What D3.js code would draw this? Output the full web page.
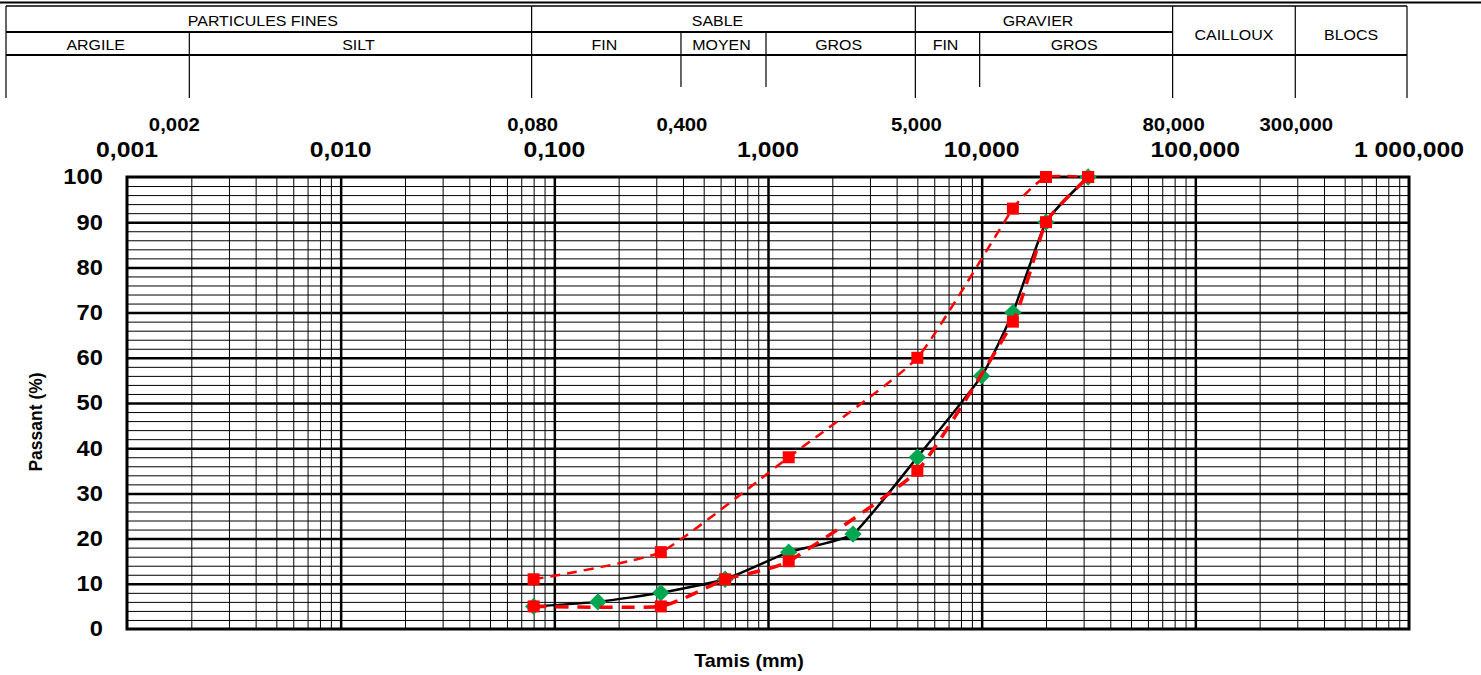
<!DOCTYPE html>
<html>
<head>
<meta charset="utf-8">
<script src="https://cdn.jsdelivr.net/npm/d3@7"></script>
<style>
  html, body { margin: 0; padding: 0; background: #fff; }
  svg { display: block; font-family: "Liberation Sans", Arial, sans-serif; }
</style>
</head>
<body>
<svg id="chart" width="1481" height="675"></svg>
<script>
// ---------------- DATA ----------------
const sievesGreen = [0.08, 0.16, 0.315, 0.63, 1.25, 2.5, 5, 10, 14, 20, 31.5];
const passingGreen = [5, 6, 8, 11, 17, 21, 38, 56, 70, 90, 100];

const sievesRedLow = [0.08, 0.315, 0.63, 1.25, 5, 14, 20, 31.5];
const passingRedLow = [5, 5, 11, 15, 35, 68, 90, 100];

const sievesRedHigh = [0.08, 0.315, 1.25, 5, 14, 20, 31.5];
const passingRedHigh = [11, 17, 38, 60, 93, 100, 100];

const topMajorValues = [0.001, 0.01, 0.1, 1, 10, 100, 1000];
const topMajorLabels = ["0,001", "0,010", "0,100", "1,000", "10,000", "100,000", "1 000,000"];
const topLimitValues = [0.002, 0.08, 0.4, 5, 80, 300];
const topLimitLabels = ["0,002", "0,080", "0,400", "5,000", "80,000", "300,000"];
const yTickValues = [0, 10, 20, 30, 40, 50, 60, 70, 80, 90, 100];

// classification table: [label, from, to] (null = left edge)
const classGroups = [
  ["PARTICULES FINES", null, 0.08],
  ["SABLE", 0.08, 5],
  ["GRAVIER", 5, 80]
];
const classSpanning = [
  ["CAILLOUX", 80, 300],
  ["BLOCS", 300, 1000]
];
const classSub = [
  ["ARGILE", null, 0.002],
  ["SILT", 0.002, 0.08],
  ["FIN", 0.08, 0.4],
  ["MOYEN", 0.4, 1],
  ["GROS", 1, 5],
  ["FIN", 5, 10],
  ["GROS", 10, 80]
];
const longDividers = [0.002, 0.08, 5, 80, 300, 1000];
const shortDividers = [0.4, 1, 10];

// ---------------- LAYOUT ----------------
const svg = d3.select("#chart");
const L = 127, R = 1409, T = 177, B = 629;
const x = d3.scaleLog().domain([0.001, 1000]).range([L, R]);
const y = d3.scaleLinear().domain([0, 100]).range([B, T]);
const STRETCH = 1.1;

function stext(g, px, py, txt, opts) {
  return g.append("text")
    .attr("transform", `translate(${px},${py}) scale(${STRETCH},1)`)
    .attr("text-anchor", opts.anchor || "middle")
    .attr("font-size", opts.size)
    .attr("font-weight", opts.weight || "normal")
    .attr("fill", "#000")
    .text(txt);
}

// ---------------- HEADER TABLE ----------------
const hx = v => (v === null ? 6 : x(v) - 2);
const H0 = 6, H1 = 32, H2 = 55, H3 = 98, H3s = 87;
const head = svg.append("g");
head.append("line").attr("x1", 0).attr("x2", 1481).attr("y1", 2.5).attr("y2", 2.5)
  .attr("stroke", "#000").attr("stroke-width", 2);
head.append("line").attr("x1", 6).attr("x2", hx(1000)).attr("y1", H0).attr("y2", H0)
  .attr("stroke", "#000").attr("stroke-width", 1.5);
head.append("line").attr("x1", 6).attr("x2", hx(80)).attr("y1", H1).attr("y2", H1)
  .attr("stroke", "#000").attr("stroke-width", 2);
head.append("line").attr("x1", 6).attr("x2", hx(1000)).attr("y1", H2).attr("y2", H2)
  .attr("stroke", "#000").attr("stroke-width", 2);
head.append("line").attr("x1", 6).attr("x2", 6).attr("y1", H0).attr("y2", H3)
  .attr("stroke", "#000").attr("stroke-width", 1.2);
longDividers.forEach(v => {
  const top = (v === 0.002) ? H1 : H0;
  head.append("line").attr("x1", hx(v)).attr("x2", hx(v)).attr("y1", top).attr("y2", H3)
    .attr("stroke", "#000").attr("stroke-width", 1.2);
});
shortDividers.forEach(v => {
  head.append("line").attr("x1", hx(v)).attr("x2", hx(v)).attr("y1", H1).attr("y2", H3s)
    .attr("stroke", "#000").attr("stroke-width", 1.2);
});
classGroups.forEach(([lab, a, b]) => stext(head, (hx(a) + hx(b)) / 2 - 6, 26, lab, { size: 14.5 }));
classSpanning.forEach(([lab, a, b]) => stext(head, (hx(a) + hx(b)) / 2, 40, lab, { size: 14.5 }));
classSub.forEach(([lab, a, b]) => stext(head, (hx(a) + hx(b)) / 2 - 2, 50, lab, { size: 14.5 }));

// ---------------- TOP SIZE LABELS ----------------
const topG = svg.append("g");
topLimitValues.forEach((v, i) => {
  const nudge = (v === 0.002) ? -17 : -1;
  stext(topG, x(v) + nudge, 131, topLimitLabels[i], { size: 18.5, weight: "bold" });
});
topMajorValues.forEach((v, i) => {
  stext(topG, x(v), 157, topMajorLabels[i], { size: 22.5, weight: "bold" });
});

// ---------------- GRID ----------------
const minorX = [];
for (let e = -3; e < 3; e++) {
  for (let k = 2; k <= 9; k++) minorX.push(k * Math.pow(10, e));
}
const minorY = d3.range(2, 100, 2).filter(v => v % 10 !== 0);
const majorY = d3.range(10, 100, 10);
const majorX = topMajorValues.slice(1, -1);

const grid = svg.append("g");
function gridAxis(axis, tx, ty, width) {
  const g = grid.append("g").attr("transform", `translate(${tx},${ty})`).call(axis);
  g.select(".domain").remove();
  g.selectAll("line").attr("stroke", "#000").attr("stroke-width", width);
  g.selectAll("text").remove();
}
gridAxis(d3.axisBottom(x).tickValues(minorX).tickSize(-(B - T)).tickFormat(""), 0, B, 1);
gridAxis(d3.axisLeft(y).tickValues(minorY).tickSize(-(R - L)).tickFormat(""), L, 0, 1);
gridAxis(d3.axisBottom(x).tickValues(majorX).tickSize(-(B - T)).tickFormat(""), 0, B, 2.5);
gridAxis(d3.axisLeft(y).tickValues(majorY).tickSize(-(R - L)).tickFormat(""), L, 0, 2.5);
grid.append("rect").attr("x", L).attr("y", T).attr("width", R - L).attr("height", B - T)
  .attr("fill", "none").attr("stroke", "#000").attr("stroke-width", 3);

// ---------------- Y AXIS LABELS ----------------
const yAx = svg.append("g").attr("transform", `translate(${L},0)`)
  .call(d3.axisLeft(y).tickValues(yTickValues).tickSize(0).tickPadding(22));
yAx.select(".domain").remove();
yAx.selectAll("text")
  .attr("font-family", "Liberation Sans, Arial, sans-serif")
  .attr("font-size", 21.5).attr("font-weight", "bold").attr("fill", "#000")
  .attr("transform", `scale(${STRETCH},1)`);

// ---------------- AXIS TITLES ----------------
svg.append("text")
  .attr("transform", "translate(42,422) rotate(-90)")
  .attr("text-anchor", "middle").attr("font-size", 17.5).attr("font-weight", "bold")
  .text("Passant (%)");
stext(svg, 749, 667, "Tamis (mm)", { size: 18, weight: "bold" });

// ---------------- SERIES ----------------
const curve = d3.curveCardinal.tension(0.55);
const lineGen = d3.line().x(d => x(d[0])).y(d => y(d[1])).curve(curve);
const zip = (a, b) => a.map((v, i) => [v, b[i]]);

const dGreen = zip(sievesGreen, passingGreen);
const dLow = zip(sievesRedLow, passingRedLow);
const dHigh = zip(sievesRedHigh, passingRedHigh);

const series = svg.append("g");
series.append("path").datum(dGreen).attr("d", lineGen)
  .attr("fill", "none").attr("stroke", "#000").attr("stroke-width", 2.5);
series.selectAll(".dia").data(dGreen).join("path")
  .attr("class", "dia")
  .attr("d", d3.symbol(d3.symbolSquare, 150))
  .attr("transform", d => `translate(${x(d[0])},${y(d[1])}) rotate(45)`)
  .attr("fill", "#00A650");

series.append("path").datum(dLow).attr("d", lineGen)
  .attr("fill", "none").attr("stroke", "#FF0000").attr("stroke-width", 3.5)
  .attr("stroke-dasharray", "13,9");
series.append("path").datum(dHigh).attr("d", lineGen)
  .attr("fill", "none").attr("stroke", "#FF0000").attr("stroke-width", 2.5)
  .attr("stroke-dasharray", "10,7");

series.selectAll(".sqL").data(dLow).join("path")
  .attr("class", "sqL")
  .attr("d", d3.symbol(d3.symbolSquare, 144))
  .attr("transform", d => `translate(${x(d[0])},${y(d[1])})`)
  .attr("fill", "#FF0000");
series.selectAll(".sqH").data(dHigh).join("path")
  .attr("class", "sqH")
  .attr("d", d3.symbol(d3.symbolSquare, 144))
  .attr("transform", d => `translate(${x(d[0])},${y(d[1])})`)
  .attr("fill", "#FF0000");
</script>
</body>
</html>
